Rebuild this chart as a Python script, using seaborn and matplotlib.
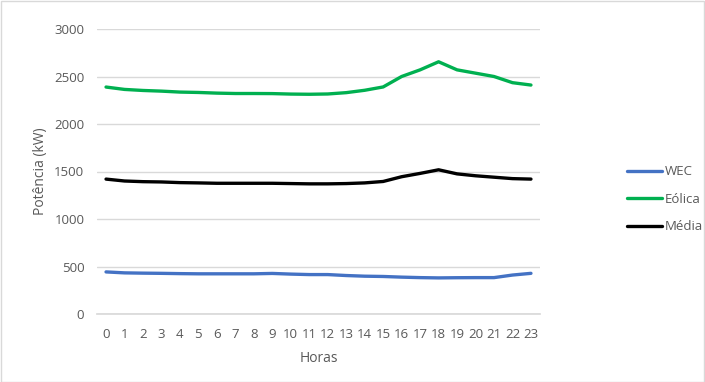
import matplotlib
matplotlib.use("Agg")
import matplotlib.pyplot as plt
import seaborn as sns
import pandas as pd
from matplotlib.patches import Rectangle

horas = list(range(24))
wec = [443, 433, 430, 428, 425, 423, 423, 423, 423, 427, 420, 415, 415, 405, 398, 395,
       388, 383, 380, 382, 383, 383, 410, 428]
eolica = [2389, 2364, 2353, 2346, 2336, 2332, 2325, 2321, 2321, 2320, 2315, 2313, 2316, 2330,
          2355, 2390, 2500, 2570, 2655, 2570, 2535, 2500, 2435, 2410]
media = [1420, 1400, 1393, 1390, 1383, 1380, 1376, 1376, 1376, 1376, 1373, 1370, 1370, 1373,
         1380, 1395, 1445, 1480, 1518, 1475, 1455, 1440, 1425, 1420]
series_names = ["WEC", "Eólica", "Média"]
colors = ["#4472C4", "#00B050", "#000000"]

df = pd.DataFrame({"Horas": horas * 3,
                   "valor": wec + eolica + media,
                   "serie": [series_names[0]] * 24 + [series_names[1]] * 24 + [series_names[2]] * 24})

sns.set_theme(style="white")
plt.rcParams["font.family"] = ["Open Sans", "DejaVu Sans"]

fig = plt.figure(figsize=(7.05, 3.82), dpi=100)
ax = fig.add_axes([96.8 / 705, 1 - 314 / 382, (540.2 - 96.8) / 705, (314 - 29) / 382])

sns.lineplot(data=df, x="Horas", y="valor", hue="serie", palette=colors,
             hue_order=series_names, linewidth=2.4, ax=ax, legend=True)

ax.set_xlim(-0.5, 23.5)
ax.set_ylim(0, 3000)
ax.set_xticks(horas)
ax.set_xticklabels([str(h) for h in horas])
ax.set_yticks(range(0, 3001, 500))
ax.grid(axis="y", color="#D9D9D9", linewidth=1)
ax.set_axisbelow(True)
for s in ["top", "right", "left"]:
    ax.spines[s].set_visible(False)
ax.spines["bottom"].set_color("#D9D9D9")
ax.tick_params(axis="both", colors="#595959", labelsize=9.5, length=0)
ax.tick_params(axis="x", pad=10)
ax.tick_params(axis="y", pad=9)
ax.set_xlabel("Horas", color="#595959", fontsize=10, labelpad=7)
ax.set_ylabel("Potência (kW)", color="#595959", fontsize=10, labelpad=4)

leg = ax.legend(loc="center left", bbox_to_anchor=(1.17, 0.402), frameon=False,
                fontsize=9.5, handlelength=2.6, handletextpad=0.2, labelspacing=1.1)
for t in leg.get_texts():
    t.set_color("#595959")
for l in leg.get_lines():
    l.set_linewidth(2.4)

fig.patches.append(Rectangle((0.5 / 705, 0.5 / 382), 1 - 1.5 / 705, 1 - 1.5 / 382,
                             transform=fig.transFigure, fill=False,
                             edgecolor="#D9D9D9", linewidth=1))

fig.savefig("out.png", dpi=100)
